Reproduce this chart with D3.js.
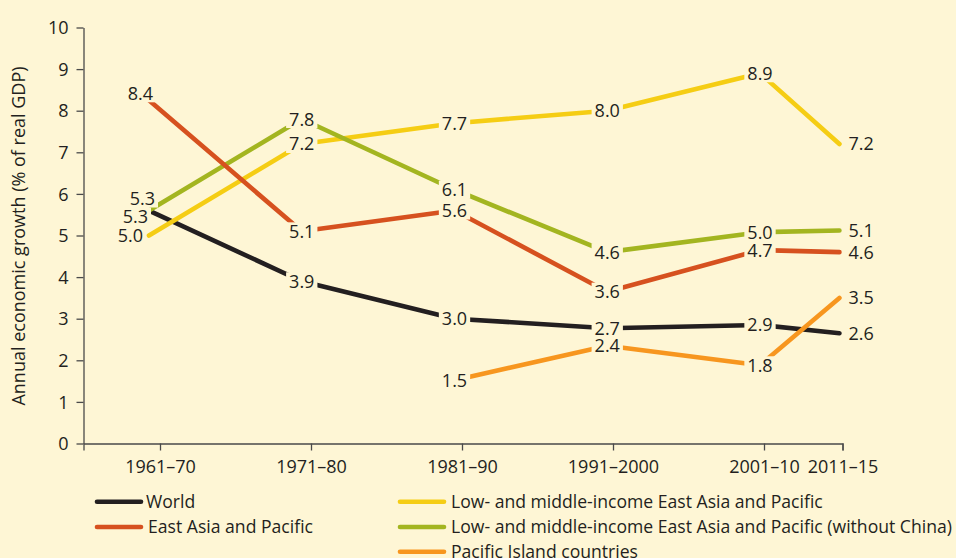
<!DOCTYPE html>
<html>
<head>
<meta charset="utf-8">
<script src="https://cdn.jsdelivr.net/npm/d3@7"></script>
<style>
  html, body { margin: 0; padding: 0; background: #fef6d5; }
  svg { display: block; }
  text { font-family: "Open Sans", sans-serif; fill: #231f20; }
</style>
</head>
<body>
<svg id="chart" width="956" height="558"></svg>
<script>
// periods on the x axis, and where they sit (2011-15 is a half period)
const periods = ["1961–70", "1971–80", "1981–90", "1991–2000", "2001–10", "2011–15"];
const periodPos = [0, 1, 2, 3, 4, 4.52];

const seriesNames = [
    "World",
    "East Asia and Pacific",
    "Low- and middle-income East Asia and Pacific",
    "Low- and middle-income East Asia and Pacific (without China)",
    "Pacific Island countries"
];

// values as plotted in the picture, and the numbers printed next to them
const world = [5.6, 3.9, 3.0, 2.77, 2.85, 2.65];
const worldLabels = ["5.3", "3.9", "3.0", "2.7", "2.9", "2.6"];
const eastAsia = [8.25, 5.1, 5.6, 3.65, 4.65, 4.6];
const eastAsiaLabels = ["8.4", "5.1", "5.6", "3.6", "4.7", "4.6"];
const lowMid = [5.0, 7.2, 7.7, 8.0, 8.9, 7.2];
const lowMidLabels = ["5.0", "7.2", "7.7", "8.0", "8.9", "7.2"];
const lowMidNoChina = [5.6, 7.8, 6.1, 4.6, 5.08, 5.12];
const lowMidNoChinaLabels = ["5.3", "7.8", "6.1", "4.6", "5.0", "5.1"];
const pacific = [null, null, 1.52, 2.35, 1.88, 3.5];
const pacificLabels = [null, null, "1.5", "2.4", "1.8", "3.5"];

const yTicks = [0, 1, 2, 3, 4, 5, 6, 7, 8, 9, 10];

const colors = {
    world: "#231f20",
    eastAsia: "#d6511f",
    lowMid: "#f5cd14",
    lowMidNoChina: "#a3b520",
    pacific: "#f7961f"
};

// draw order: black under everything, orange on top
const series = [
    { key: "world", name: seriesNames[0], values: world, labels: worldLabels, firstDx: -1, firstDy: 6 },
    { key: "lowMid", name: seriesNames[2], values: lowMid, labels: lowMidLabels, firstDx: -6, firstDy: 0 },
    { key: "lowMidNoChina", name: seriesNames[3], values: lowMidNoChina, labels: lowMidNoChinaLabels, firstDx: 6, firstDy: -12 },
    { key: "eastAsia", name: seriesNames[1], values: eastAsia, labels: eastAsiaLabels, firstDx: 4, firstDy: -7 },
    { key: "pacific", name: seriesNames[4], values: pacific, labels: pacificLabels, firstDx: 0, firstDy: 0 }
];

const bg = "#fef6d5";
const svg = d3.select("#chart");
svg.append("rect").attr("width", 956).attr("height", 558).attr("fill", bg);

const y = d3.scaleLinear().domain([0, 10]).range([443.5, 27.5]);
// axis ticks and the plotted points are a few pixels apart in the original
const xAxisScale = d3.scaleLinear().domain([0, 4]).range([160, 764]);
const xMark = d3.scaleLinear().domain([0, 4]).range([149, 760]);
const x0 = 83.5;

// y axis
const yAxis = svg.append("g")
    .attr("transform", `translate(${x0},0)`)
    .call(d3.axisLeft(y).tickValues(yTicks).tickSize(7).tickSizeOuter(0).tickFormat(d3.format("d")));
yAxis.selectAll("path, line").attr("stroke", "#4a4a4a").attr("stroke-width", 1.3);
yAxis.selectAll("text")
    .attr("x", -15).attr("dy", "0.34em")
    .style("font-size", "18px").style("font-family", "Open Sans").attr("fill", "#231f20");

// x axis
const xAxisFull = xAxisScale.copy().domain([xAxisScale.invert(x0), periodPos[5]])
    .range([x0, xAxisScale(periodPos[5])]);
const xAxis = svg.append("g")
    .attr("transform", `translate(0,${y(0)})`)
    .call(d3.axisBottom(xAxisFull).tickValues(periodPos).tickSize(7).tickSizeOuter(7)
        .tickFormat((d, i) => periods[i]));
xAxis.selectAll("path, line").attr("stroke", "#4a4a4a").attr("stroke-width", 1.3);
xAxis.selectAll("text")
    .attr("y", 29).attr("dy", 0)
    .style("font-size", "18px").style("font-family", "Open Sans").attr("fill", "#231f20");

// y axis title
svg.append("text")
    .attr("transform", `translate(25,236) rotate(-90)`)
    .attr("text-anchor", "middle")
    .style("font-size", "18px")
    .text("Annual economic growth (% of real GDP)");

// lines
const line = d3.line()
    .defined(d => d.v != null)
    .x(d => xMark(d.p))
    .y(d => y(d.v));

const pts = s => s.values.map((v, i) => ({ v, p: periodPos[i], label: s.labels[i], i }));

svg.append("g").selectAll("path")
    .data(series)
    .join("path")
    .attr("d", s => line(pts(s)))
    .attr("fill", "none")
    .attr("stroke", s => colors[s.key])
    .attr("stroke-width", 4.6)
    .attr("stroke-linecap", "round")
    .attr("stroke-linejoin", "round");

// value labels, each knocks a hole out of the lines behind it
const holeLayer = svg.append("g");
const labelLayer = svg.append("g");
series.forEach(s => {
    pts(s).filter(d => d.v != null).forEach(d => {
        let lx = xMark(d.p), ly = y(d.v), anchor = "middle";
        if (d.i === 0) {
            lx += s.firstDx; ly += s.firstDy; anchor = "end";
        } else if (d.i === periods.length - 1) {
            lx += 9; anchor = "start";
        }
        const t = labelLayer.append("text")
            .attr("x", lx).attr("y", ly).attr("dy", "0.36em")
            .attr("text-anchor", anchor)
            .style("font-size", "18px")
            .text(d.label);
        const w = t.node().getComputedTextLength();
        const left = anchor === "middle" ? lx - w / 2 : anchor === "end" ? lx - w : lx;
        holeLayer.append("rect").attr("fill", bg)
            .attr("x", left - 3).attr("y", ly - 9).attr("width", w + 6).attr("height", 18);
    });
});

// legend
const legendItems = [
    { key: "world", name: seriesNames[0], col: 0, row: 0 },
    { key: "eastAsia", name: seriesNames[1], col: 0, row: 1 },
    { key: "lowMid", name: seriesNames[2], col: 1, row: 0 },
    { key: "lowMidNoChina", name: seriesNames[3], col: 1, row: 1 },
    { key: "pacific", name: seriesNames[4], col: 1, row: 2 }
];
const colX = [97, 400];
const rowY = [501.7, 527, 551.7];

const legend = svg.append("g").selectAll("g")
    .data(legendItems)
    .join("g")
    .attr("transform", d => `translate(${colX[d.col]},${rowY[d.row]})`);
legend.append("line")
    .attr("x1", 0).attr("x2", 44)
    .attr("stroke", d => colors[d.key])
    .attr("stroke-width", 4.6)
    .attr("stroke-linecap", "round");
legend.append("text")
    .attr("x", d => d.key === "world" ? 49 : 51)
    .attr("y", 6)
    .style("font-size", "17.6px")
    .text(d => d.name);
</script>
</body>
</html>
